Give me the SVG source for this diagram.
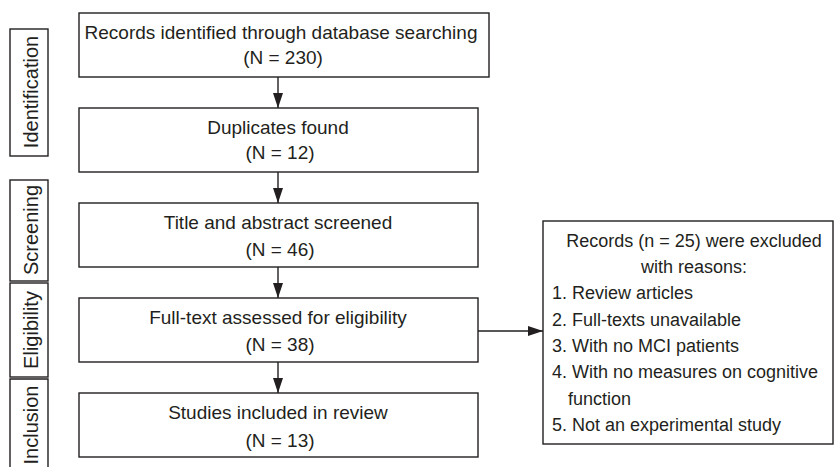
<svg xmlns="http://www.w3.org/2000/svg" width="834" height="467" viewBox="0 0 834 467">
<style>
.box{fill:#fff;stroke:#231f20;stroke-width:1.4}
.t{font-family:"Liberation Sans",Arial,sans-serif;font-size:19px;fill:#231f20}
.s{font-family:"Liberation Sans",Arial,sans-serif;font-size:18px;fill:#231f20}
.v{font-family:"Liberation Sans",Arial,sans-serif;font-size:20px;fill:#231f20;text-anchor:middle}
.c{text-anchor:middle}
.ln{stroke:#231f20;stroke-width:1.4;fill:none}
</style>
<defs>
<marker id="ah" viewBox="0 0 15 10" refX="15" refY="5" markerWidth="15" markerHeight="10" markerUnits="userSpaceOnUse" orient="auto">
<path d="M0,0 L15,5 L0,10 Z" fill="#231f20"/>
</marker>
</defs>
<rect width="834" height="467" fill="#fff"/>
<g id="stage-identification">
<rect class="box" x="10" y="29" width="38" height="127"/>
<text class="v" transform="translate(38,92) rotate(-90)">Identification</text>
</g>
<g id="stage-screening">
<rect class="box" x="10" y="180" width="38" height="101"/>
<text class="v" transform="translate(38,230) rotate(-90)">Screening</text>
</g>
<g id="stage-eligibility">
<rect class="box" x="10" y="283" width="38" height="94"/>
<text class="v" transform="translate(38,330) rotate(-90)">Eligibility</text>
</g>
<g id="stage-inclusion">
<path class="ln" d="M10,468 V379 H48 V468"/>
<text class="v" transform="translate(38,425) rotate(-90)">Inclusion</text>
</g>
<g id="n1">
<rect class="box" x="79" y="13" width="410" height="64"/>
<text class="t c" x="281" y="39">Records identified through database searching</text>
<text class="t c" x="283" y="64">(N = 230)</text>
</g>
<g id="n2">
<rect class="box" x="79" y="108" width="399" height="64"/>
<text class="t c" x="278" y="134">Duplicates found</text>
<text class="t c" x="280" y="159">(N = 12)</text>
</g>
<g id="n3">
<rect class="box" x="79" y="203" width="399" height="64"/>
<text class="t c" x="278" y="229">Title and abstract screened</text>
<text class="t c" x="280" y="256">(N = 46)</text>
</g>
<g id="n4">
<rect class="box" x="79" y="298" width="399" height="64"/>
<text class="t c" x="278" y="324">Full-text assessed for eligibility</text>
<text class="t c" x="280" y="351">(N = 38)</text>
</g>
<g id="n5">
<rect class="box" x="79" y="393" width="399" height="64"/>
<text class="t c" x="278" y="419">Studies included in review</text>
<text class="t c" x="280" y="447">(N = 13)</text>
</g>
<g id="n6">
<rect class="box" x="543" y="221" width="290" height="223"/>
<text class="s c" x="694" y="247">Records (n = 25) were excluded</text>
<text class="s c" x="694" y="273">with reasons:</text>
<text class="s" x="552" y="299">1. Review articles</text>
<text class="s" x="552" y="326">2. Full-texts unavailable</text>
<text class="s" x="552" y="352">3. With no MCI patients</text>
<text class="s" x="552" y="378">4. With no measures on cognitive</text>
<text class="s" x="568" y="405">function</text>
<text class="s" x="552" y="431">5. Not an experimental study</text>
</g>
<g id="connectors">
<line class="ln" x1="278" y1="77" x2="278" y2="108" marker-end="url(#ah)"/>
<line class="ln" x1="278" y1="172" x2="278" y2="203" marker-end="url(#ah)"/>
<line class="ln" x1="278" y1="267" x2="278" y2="298" marker-end="url(#ah)"/>
<line class="ln" x1="278" y1="362" x2="278" y2="393" marker-end="url(#ah)"/>
<line class="ln" x1="478" y1="331" x2="543" y2="331" marker-end="url(#ah)"/>
</g>
</svg>
